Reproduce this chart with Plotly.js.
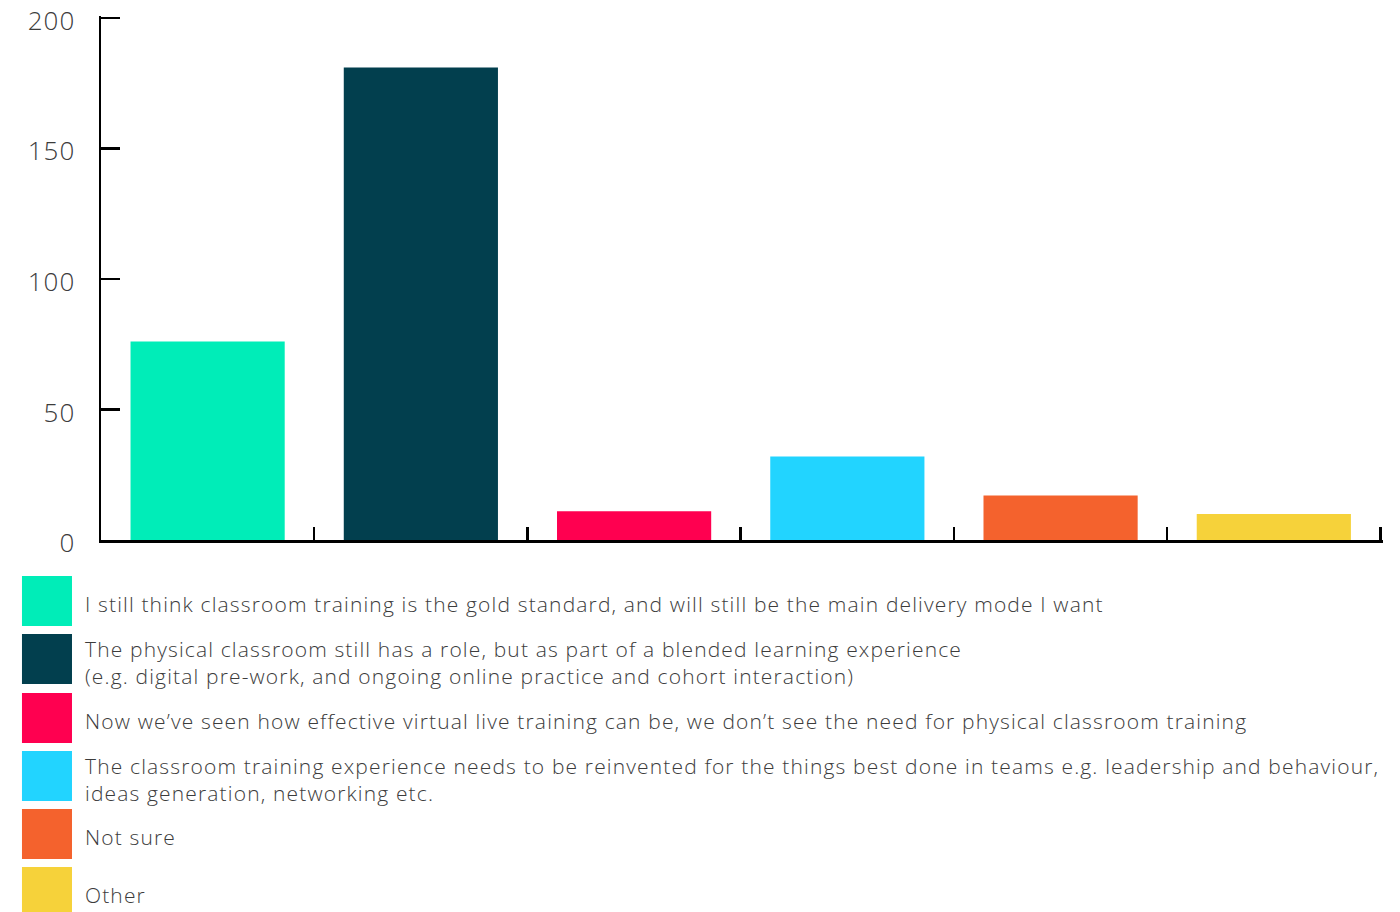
<!DOCTYPE html>
<html>
<head>
<meta charset="utf-8">
<script src="https://cdn.plot.ly/plotly-3.0.1.min.js"></script>
<style>
html,body{margin:0;padding:0;background:#fff;}
#chart{width:1400px;height:912px;}
#chart .annotation-text{letter-spacing:1.15px;}
#chart .ytick text{letter-spacing:1px;}
</style>
</head>
<body>
<div id="chart"></div>
<script>
const categories = ["gold", "blended", "virtual", "reinvented", "notsure", "other"];
const values = [76, 181, 11, 32, 17, 10];
const labels = [
  "I still think classroom training is the gold standard, and will still be the main delivery mode I want",
  "The physical classroom still has a role, but as part of a blended learning experience<br>(e.g. digital pre-work, and ongoing online practice and cohort interaction)",
  "Now we\u2019ve seen how effective virtual live training can be, we don\u2019t see the need for physical classroom training",
  "The classroom training experience needs to be reinvented for the things best done in teams e.g. leadership and behaviour,<br>ideas generation, networking etc.",
  "Not sure",
  "Other"
];
const colors = ["#00EDB8", "#023F4E", "#FF0050", "#22D4FF", "#F4622D", "#F6D23A"];
const yTicks = [0, 50, 100, 150, 200];
const yMax = 200.7;
const xPad = 0.012;

const W = 1400, H = 912;
const L = 101, B = 540;
const catW = (1380 - L) / 6;
const R = L + catW * (6 + xPad);
const T = 18 - (yMax - 200) * (B - 18) / 200;
const px2x = p => (p - L) / (R - L);
const py2y = p => (B - p) / (B - T);

const rowTops = [576, 634, 693, 751, 809, 867];
const shapes = [], annotations = [];
labels.forEach((lab, i) => {
  const top = rowTops[i];
  shapes.push({
    type: "rect", xref: "paper", yref: "paper",
    x0: px2x(22), x1: px2x(72), y0: py2y(top), y1: py2y(top + 50),
    fillcolor: colors[i], line: {width: 0}
  });
  annotations.push({
    xref: "paper", yref: "paper", x: px2x(83), y: py2y(top + 28),
    xanchor: "left", yanchor: "middle", align: "left", showarrow: false,
    text: lab, font: {family: "Open Sans, sans-serif", size: 21, weight: 300, color: "#3c3c3c"}
  });
});

const data = [{
  type: "bar", x: categories, y: values,
  marker: {color: colors, line: {width: 0}},
  hoverinfo: "none"
}];

const layout = {
  width: W, height: H,
  margin: {l: L, r: W - R, t: T, b: H - B, pad: 0},
  paper_bgcolor: "#fff", plot_bgcolor: "#fff",
  showlegend: false,
  bargap: 0.277,
  xaxis: {
    type: "category", showticklabels: false, showgrid: false, zeroline: false,
    showline: true, linecolor: "#000", linewidth: 2.5,
    ticks: "inside", tickson: "boundaries", ticklen: 13, tickwidth: 2.5, tickcolor: "#000",
    range: [-0.5, 5.5 + xPad], fixedrange: true
  },
  yaxis: {
    range: [0, yMax], tickvals: yTicks, ticktext: yTicks.map(String),
    showgrid: false, zeroline: false,
    showline: true, linecolor: "#000", linewidth: 2.5,
    ticks: "inside", ticklen: 19, tickwidth: 2.5, tickcolor: "#000",
    ticklabelstandoff: 18, ticklabelshift: 3, ticklabeloverflow: "allow",
    tickfont: {family: "Open Sans, sans-serif", size: 26, weight: 300, color: "#3c3c3c"},
    fixedrange: true
  },
  shapes: shapes,
  annotations: annotations
};

Plotly.newPlot("chart", data, layout, {displayModeBar: false, staticPlot: true});
</script>
</body>
</html>
